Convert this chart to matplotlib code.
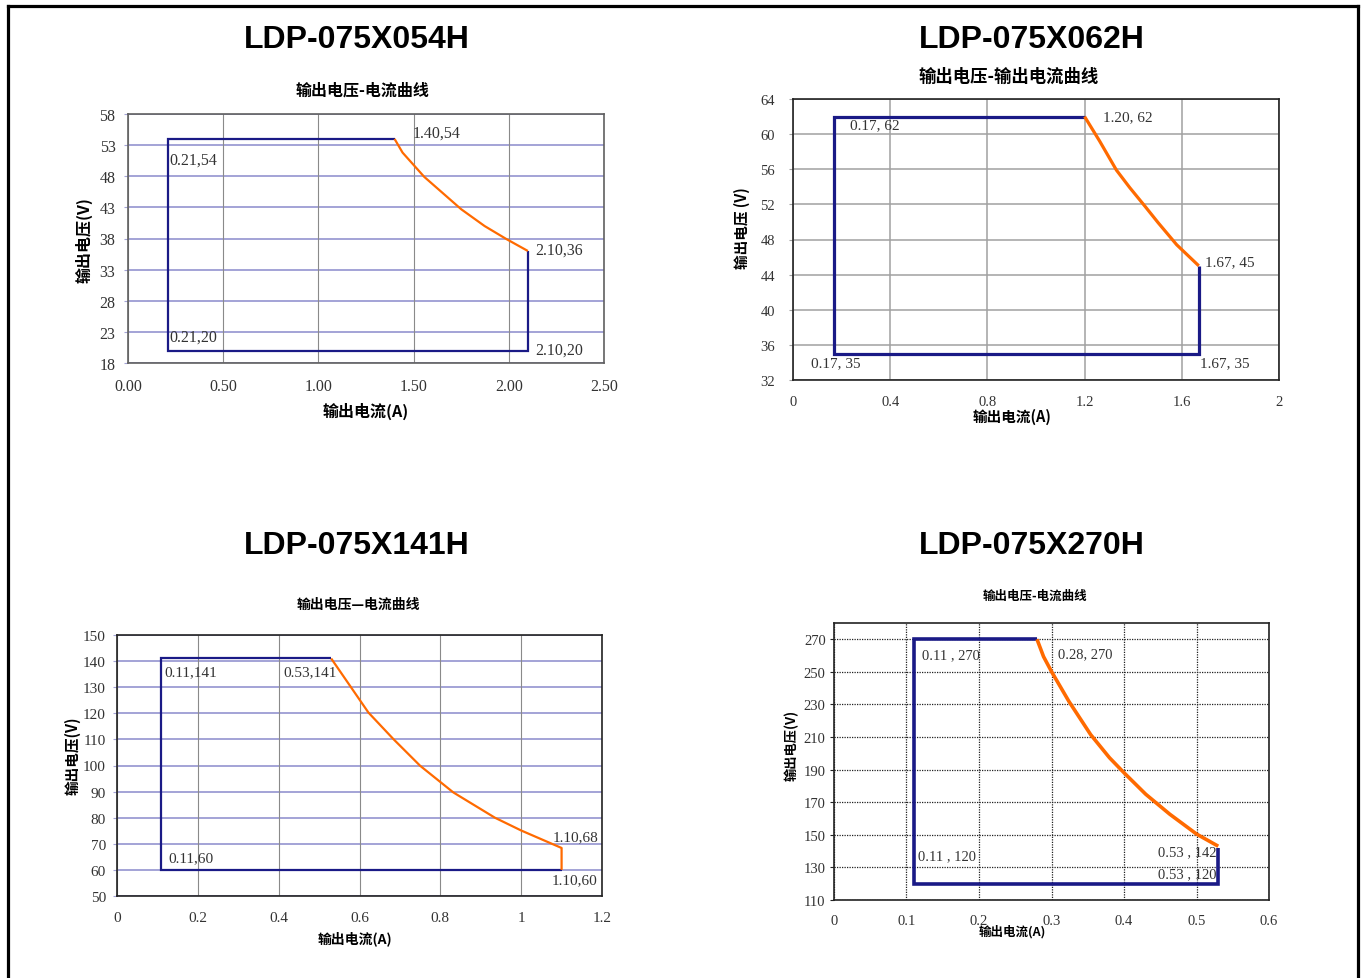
import matplotlib
matplotlib.use("Agg")
import matplotlib.pyplot as plt
from matplotlib.lines import Line2D

W, H = 1363, 979
CJK = ['Noto Sans CJK SC', 'DejaVu Sans']
SERIF = ['Liberation Serif', 'DejaVu Serif']
BLUE = '#1a1a86'
ORANGE = '#ff6a00'

# ---------------- data ----------------
titles = ['LDP-075X054H', 'LDP-075X062H', 'LDP-075X141H', 'LDP-075X270H']
subtitles = ['输出电压-电流曲线', '输出电压-输出电流曲线', '输出电压—电流曲线', '输出电压-电流曲线']
ylabels = ['输出电压(V)', '输出电压 (V)', '输出电压(V)', '输出电压(V)']
xlabel = '输出电流(A)'

c1_box_i = [1.40, 0.21, 0.21, 2.10, 2.10]
c1_box_v = [54, 54, 20, 20, 36]
c1_curve_i = [1.40, 1.442, 1.556, 1.75, 1.873, 1.988, 2.10]
c1_curve_v = [54, 51.8, 47.9, 42.7, 40, 37.9, 36]
c1_xticks = [0, 0.5, 1.0, 1.5, 2.0, 2.5]
c1_xticklabels = ['0.00', '0.50', '1.00', '1.50', '2.00', '2.50']
c1_yticks = [18, 23, 28, 33, 38, 43, 48, 53, 58]
c1_notes = ['1.40,54', '0.21,54', '2.10,36', '0.21,20', '2.10,20']
c1_note_pts = [(1.40, 54), (0.21, 54), (2.10, 36), (0.21, 20), (2.10, 20)]

c2_box_i = [1.20, 0.17, 0.17, 1.67, 1.67]
c2_box_v = [62, 62, 35, 35, 45]
c2_curve_i = [1.20, 1.262, 1.331, 1.386, 1.448, 1.503, 1.579, 1.67]
c2_curve_v = [62, 59.2, 55.9, 53.9, 51.8, 49.9, 47.4, 45]
c2_xticks = [0, 0.4, 0.8, 1.2, 1.6, 2]
c2_xticklabels = ['0', '0.4', '0.8', '1.2', '1.6', '2']
c2_yticks = [32, 36, 40, 44, 48, 52, 56, 60, 64]
c2_notes = ['0.17, 62', '1.20, 62', '1.67, 45', '0.17, 35', '1.67, 35']
c2_note_pts = [(0.17, 62), (1.20, 62), (1.67, 45), (0.17, 35), (1.67, 35)]

c3_box_i = [0.53, 0.11, 0.11, 1.10]
c3_box_v = [141, 141, 60, 60]
c3_curve_i = [0.53, 0.622, 0.684, 0.75, 0.832, 0.935, 1.00, 1.10, 1.10]
c3_curve_v = [141, 120.3, 110.1, 99.9, 89.7, 80, 75.1, 68.4, 60]
c3_xticks = [0, 0.2, 0.4, 0.6, 0.8, 1.0, 1.2]
c3_xticklabels = ['0', '0.2', '0.4', '0.6', '0.8', '1', '1.2']
c3_yticks = [50, 60, 70, 80, 90, 100, 110, 120, 130, 140, 150]
c3_notes = ['0.11,141', '0.53,141', '1.10,68', '0.11,60', '1.10,60']
c3_note_pts = [(0.11, 141), (0.53, 141), (1.10, 68), (0.11, 60), (1.10, 60)]

c4_box_i = [0.28, 0.11, 0.11, 0.53, 0.53]
c4_box_v = [270, 270, 120, 120, 142]
c4_curve_i = [0.28, 0.289, 0.30, 0.324, 0.354, 0.38, 0.40, 0.43, 0.463, 0.50, 0.53]
c4_curve_v = [270, 259.4, 250.2, 231.9, 211.5, 197.3, 188.1, 174.9, 162.7, 150.5, 143]
c4_xticks = [0, 0.1, 0.2, 0.3, 0.4, 0.5, 0.6]
c4_xticklabels = ['0', '0.1', '0.2', '0.3', '0.4', '0.5', '0.6']
c4_yticks = [110, 130, 150, 170, 190, 210, 230, 250, 270]
c4_notes = ['0.11 , 270', '0.28, 270', '0.11 , 120', '0.53 , 142', '0.53 , 120']
c4_note_pts = [(0.11, 270), (0.28, 270), (0.11, 120), (0.53, 142), (0.53, 120)]

# ---------------- layout / style ----------------
fig = plt.figure(figsize=(W / 100, H / 100), dpi=100)
fig.patch.set_facecolor('white')


def px_axes(x0, x1, y0, y1):
    return fig.add_axes([x0 / W, 1 - y1 / H, (x1 - x0) / W, (y1 - y0) / H])


def figtext(x, y, s, **kw):
    fig.text(x / W, 1 - y / H, s, ha='center', va='center', **kw)


cfg = [
    dict(box=(128, 604, 115, 364), xlim=(0, 2.5), ylim=(18, 58),
         bi=c1_box_i, bv=c1_box_v, ci=c1_curve_i, cv=c1_curve_v,
         xt=c1_xticks, xtl=c1_xticklabels, yt=c1_yticks,
         notes=c1_notes, pts=c1_note_pts,
         offs=[(18, 6), (1, -21), (7, 1), (1, 14), (7, 1)],
         lw=1.6, hgrid=dict(color='#a3a3d6', lw=1.4, ls='-'),
         vgrid=dict(color='#8a8a8a', lw=0.8, ls='-'), frame='#606060',
         tfs=11.5, nfs=11.5, xpad=11, ypad=6,
         title=(357, 40), sub=(363, 91, 11.5), yl=(84, 240, 11.5), xl=(366, 411, 11.5)),
    dict(box=(793, 1279, 100, 381), xlim=(0, 2), ylim=(32, 64),
         bi=c2_box_i, bv=c2_box_v, ci=c2_curve_i, cv=c2_curve_v,
         xt=c2_xticks, xtl=c2_xticklabels, yt=c2_yticks,
         notes=c2_notes, pts=c2_note_pts,
         offs=[(16, -8), (18, 0), (6, 4), (-23, -9), (1, -9)],
         lw=2.3, hgrid=dict(color='#a0a0a0', lw=1.1, ls='-'),
         vgrid=dict(color='#a0a0a0', lw=1.1, ls='-'), frame='#222222',
         tfs=10.5, nfs=11, xpad=11, ypad=10,
         title=(1032, 40), sub=(1009, 77, 12.5), yl=(742, 228, 10.5), xl=(1012, 417, 10.5)),
    dict(box=(117, 602, 636, 897), xlim=(0, 1.2), ylim=(50, 150),
         bi=c3_box_i, bv=c3_box_v, ci=c3_curve_i, cv=c3_curve_v,
         xt=c3_xticks, xtl=c3_xticklabels, yt=c3_yticks,
         notes=c3_notes, pts=c3_note_pts,
         offs=[(3, -13), (-48, -13), (-9, 12), (7, 12), (-10, -10)],
         lw=1.6, hgrid=dict(color='#a3a3d6', lw=1.4, ls='-'),
         vgrid=dict(color='#8a8a8a', lw=0.8, ls='-'), frame='#222222',
         tfs=11, nfs=11, xpad=11, ypad=5,
         title=(357, 546), sub=(358, 605, 10), yl=(72, 756, 10.5), xl=(355, 939, 10)),
    dict(box=(834, 1269, 624, 901), xlim=(0, 0.6), ylim=(110, 280),
         bi=c4_box_i, bv=c4_box_v, ci=c4_curve_i, cv=c4_curve_v,
         xt=c4_xticks, xtl=c4_xticklabels, yt=c4_yticks,
         notes=c4_notes, pts=c4_note_pts,
         offs=[(8, -15), (21, -14), (4, 28), (-60, -4), (-60, 10)],
         lw=2.6, hgrid=dict(color='#222222', lw=0.9, ls=(0, (1, 1))),
         vgrid=dict(color='#222222', lw=0.9, ls=(0, (1, 1))), frame='#222222',
         tfs=10.5, nfs=10.5, xpad=10, ypad=3,
         title=(1032, 546), sub=(1035, 596, 9), yl=(792, 745, 9.5), xl=(1012, 932, 9)),
]

for k, c in enumerate(cfg):
    ax = px_axes(*c['box'])
    ax.set_xlim(*c['xlim'])
    ax.set_ylim(*c['ylim'])
    ax.set_xticks(c['xt'])
    ax.set_xticklabels(c['xtl'])
    ax.set_yticks(c['yt'])
    ax.set_yticklabels([str(v) for v in c['yt']])
    for lab in ax.get_xticklabels() + ax.get_yticklabels():
        lab.set_family(SERIF)
        lab.set_fontsize(c['tfs'])
        lab.set_color('#333333')
    ax.tick_params(axis='x', length=0, pad=c['xpad'])
    ax.tick_params(axis='y', length=3, pad=c['ypad'], color=c['hgrid']['color'])
    for t in c['yt']:
        ax.axhline(t, color=c['hgrid']['color'], lw=c['hgrid']['lw'],
                   ls=c['hgrid']['ls'], zorder=1)
    for t in c['xt']:
        ax.axvline(t, color=c['vgrid']['color'], lw=c['vgrid']['lw'],
                   ls=c['vgrid']['ls'], zorder=1)
    for sp in ax.spines.values():
        sp.set_color(c['frame'])
        sp.set_linewidth(1.2)
        sp.set_zorder(5)
    ax.plot(c['bi'], c['bv'], color=BLUE, lw=c['lw'], zorder=3,
            solid_joinstyle='miter', solid_capstyle='butt')
    ax.plot(c['ci'], c['cv'], color=ORANGE, lw=c['lw'], zorder=4,
            solid_capstyle='butt', solid_joinstyle='round')
    for s, p, o in zip(c['notes'], c['pts'], c['offs']):
        ax.annotate(s, xy=p, xytext=o, textcoords='offset pixels',
                    ha='left', va='center', family=SERIF,
                    fontsize=c['nfs'], color='#333333', zorder=6)
    tx, ty = c['title']
    figtext(tx, ty, titles[k], family=['Liberation Sans', 'DejaVu Sans'],
            fontsize=23, fontweight='bold', color='black')
    sx, sy, sfs = c['sub']
    figtext(sx, sy, subtitles[k], family=CJK, fontsize=sfs, fontweight='bold')
    lx, ly, lfs = c['yl']
    figtext(lx, ly, ylabels[k], family=CJK, fontsize=lfs, fontweight='bold',
            rotation=90)
    xx, xy, xfs = c['xl']
    figtext(xx, xy, xlabel, family=CJK, fontsize=xfs, fontweight='bold')

# figure border (left, top, right)
bw = 2.3
fig.add_artist(Line2D([7.5 / W, 7.5 / W], [0, 1 - 6.5 / H], color='black', lw=bw,
                      transform=fig.transFigure, solid_capstyle='projecting'))
fig.add_artist(Line2D([7.5 / W, 1357.5 / W], [1 - 6.5 / H, 1 - 6.5 / H], color='black',
                      lw=bw, transform=fig.transFigure, solid_capstyle='projecting'))
fig.add_artist(Line2D([1357.5 / W, 1357.5 / W], [0, 1 - 6.5 / H], color='black', lw=bw,
                      transform=fig.transFigure, solid_capstyle='projecting'))

fig.savefig('out.png', dpi=100, facecolor='white')
